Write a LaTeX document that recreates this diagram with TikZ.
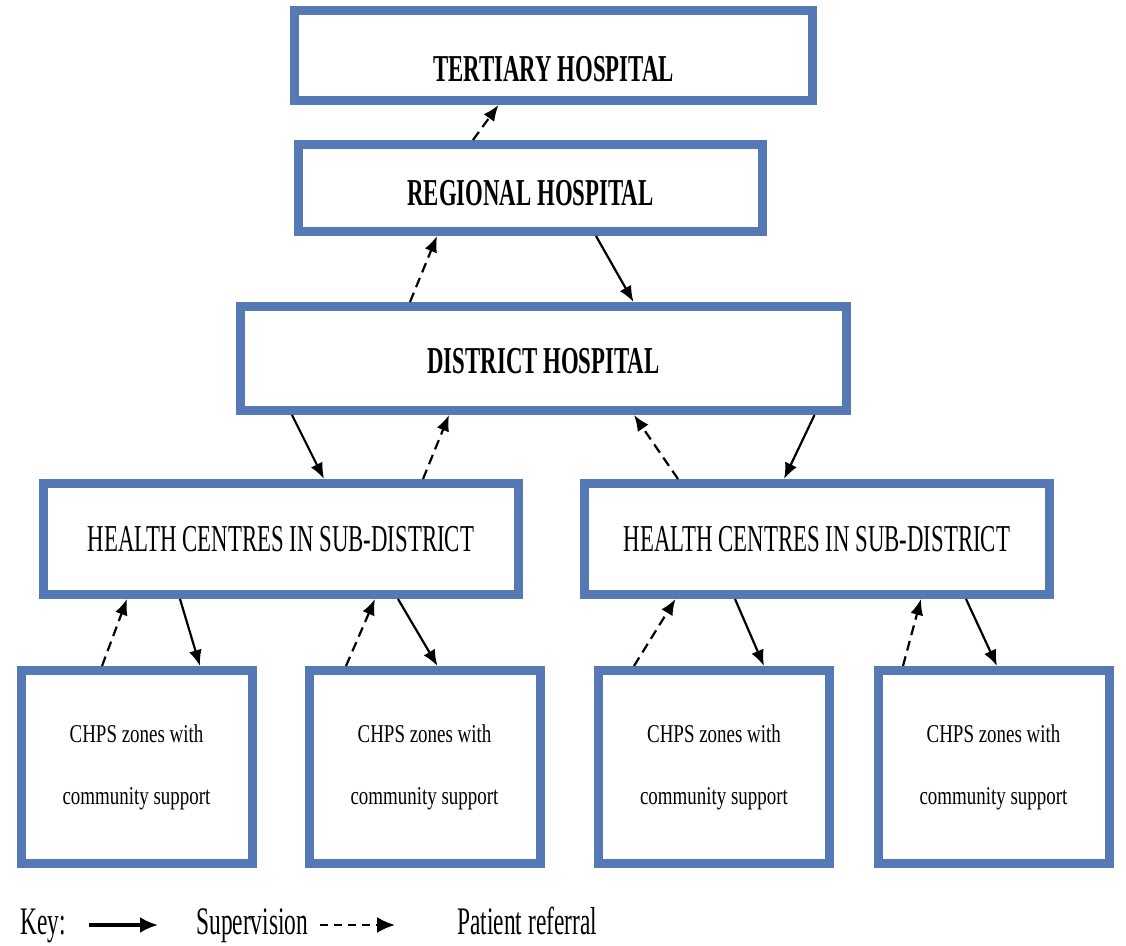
\documentclass[tikz,border=0pt]{standalone}
\usepackage{fontspec}
\usepackage{tikz}
\usetikzlibrary{arrows.meta}
\usetikzlibrary{calc}
\newfontfamily\condfont{Liberation Serif}[FakeStretch=0.6]
\newfontfamily\zonefont{Liberation Serif}[FakeStretch=0.74]
\definecolor{boxblue}{HTML}{5579B5}
\tikzstyle{hospital} = [rectangle, draw=boxblue, line width=4.5pt, fill=white, text centered, text depth=0pt, font=\condfont\bfseries\fontsize{19pt}{23pt}\selectfont]
\tikzstyle{centre} = [rectangle, draw=boxblue, line width=4.5pt, fill=white, minimum height=55.5pt, text centered, font=\condfont\fontsize{19pt}{23pt}\selectfont]
\tikzstyle{zone} = [rectangle, draw=boxblue, line width=4.5pt, fill=white, minimum width=115.5pt, minimum height=96.5pt, align=center, font=\zonefont\fontsize{12.8pt}{31pt}\selectfont]
\tikzstyle{supervision} = [line width=1.1pt, -{Latex[length=8pt,width=6.5pt]}]
\tikzstyle{referral} = [line width=1.1pt, dash pattern=on 5pt off 3pt, -{Latex[length=8pt,width=6.5pt]}]
\tikzstyle{keytext} = [inner sep=0pt, anchor=base west, font=\condfont\fontsize{19.5pt}{23pt}\selectfont]

\begin{document}
\begin{tikzpicture}[x=0.5pt, y=-0.5pt]
    \useasboundingbox (0,0) rectangle (1126,946);

    % levels of the referral system
    \node (tertiary) [hospital, minimum width=259pt, minimum height=45pt, text height=25.6pt] at (553.5,55.5) {TERTIARY HOSPITAL};
    \node (regional) [hospital, minimum width=232pt, minimum height=43.5pt, text height=18pt] at (530.5,188) {REGIONAL HOSPITAL};
    \node (district) [hospital, minimum width=303pt, minimum height=52pt, text height=15pt] at (543.5,358.5) {DISTRICT HOSPITAL};
    \node (hcLeft) [centre, minimum width=237.5pt] at (281,539) {HEALTH CENTRES IN SUB-DISTRICT};
    \node (hcRight) [centre, minimum width=232.5pt] at (817,539) {HEALTH CENTRES IN SUB-DISTRICT};
    \node (chpsA) [zone] at (136.5,767) {CHPS zones with\\community support};
    \node (chpsB) [zone] at (424.5,767) {CHPS zones with\\community support};
    \node (chpsC) [zone] at (714,767) {CHPS zones with\\community support};
    \node (chpsD) [zone] at (993.5,767) {CHPS zones with\\community support};

    \draw [referral] ($(regional.north)+(-57.5,0)$) -- ($(tertiary.south)+(-55,0)$);
    \draw [referral] ($(district.north)+(-133.5,0)$) -- ($(regional.south)+(-93.5,0)$);
    \draw [supervision] ($(regional.south)+(65.5,0)$) -- ($(district.north)+(90,0)$);

    \draw [supervision] ($(district.south)+(-251.5,0)$) -- ($(hcLeft.north)+(43,0)$);
    \draw [referral] ($(hcLeft.north)+(142,0)$) -- ($(district.south)+(-94.5,0)$);
    \draw [referral] ($(hcRight.north)+(-139,0)$) -- ($(district.south)+(90.5,0)$);
    \draw [supervision] ($(district.south)+(271,0)$) -- ($(hcRight.north)+(-33,0)$);

    \draw [referral] ($(chpsA.north)+(-34.5,0)$) -- ($(hcLeft.south)+(-154,0)$);
    \draw [supervision] ($(hcLeft.south)+(-101,0)$) -- ($(chpsA.north)+(63.5,0)$);
    \draw [referral] ($(chpsB.north)+(-78.5,0)$) -- ($(hcLeft.south)+(94,0)$);
    \draw [supervision] ($(hcLeft.south)+(117,0)$) -- ($(chpsB.north)+(13,0)$);
    \draw [referral] ($(chpsC.north)+(-80,0)$) -- ($(hcRight.south)+(-141.5,0)$);
    \draw [supervision] ($(hcRight.south)+(-82,0)$) -- ($(chpsC.north)+(50,0)$);
    \draw [referral] ($(chpsD.north)+(-90.5,0)$) -- ($(hcRight.south)+(104,0)$);
    \draw [supervision] ($(hcRight.south)+(149,0)$) -- ($(chpsD.north)+(3.5,0)$);

    % key
    \node (key) [keytext] at (20,935) {Key:};
    \coordinate (supStart) at (89,925);
    \coordinate (supEnd) at (158,925);
    \node (supText) [keytext] at (196,935) {Supervision};
    \coordinate (refStart) at (320,925);
    \coordinate (refEnd) at (395,925);
    \node (refText) [keytext] at (457,935) {Patient referral};
    \draw [line width=1.6pt, -{Latex[length=9pt,width=8pt]}] (supStart) -- (supEnd);
    \draw [line width=1.2pt, dash pattern=on 4pt off 3pt, -{Latex[length=9pt,width=8pt]}] (refStart) -- (refEnd);

\end{tikzpicture}
\end{document}
